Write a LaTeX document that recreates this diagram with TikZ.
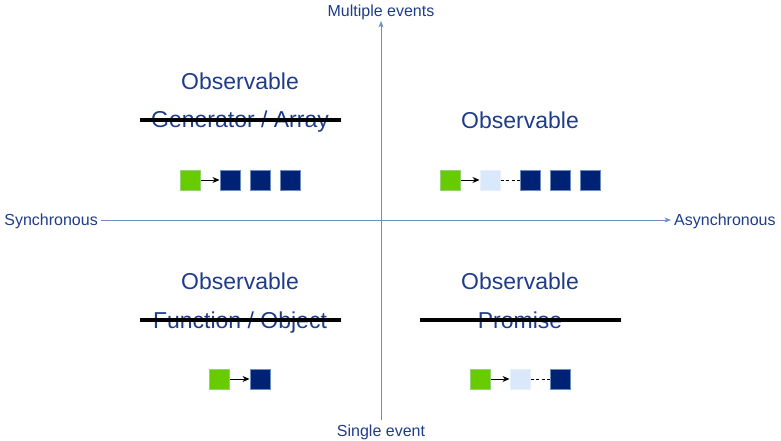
\documentclass[tikz,border=0pt]{standalone}
\usepackage{fontspec}
\setmainfont{Liberation Sans}
\usetikzlibrary{arrows.meta, positioning}
\definecolor{textblue}{HTML}{1F3C88}
\definecolor{axisblue}{HTML}{6C8EBF}
\definecolor{evgreen}{HTML}{66CC00}
\definecolor{evgreenline}{HTML}{97D077}
\definecolor{evdark}{HTML}{002275}
\definecolor{evlight}{HTML}{DAE8FC}
\definecolor{evlightline}{HTML}{E8F0FC}
\begin{document}
\begin{tikzpicture}[x=1pt, y=-1pt, >=Stealth]
		
		% Define styles
		\tikzstyle{axisline} = [draw=axisblue, line width=0.8pt]
		\tikzstyle{axislabel} = [text=textblue, font=\fontsize{16}{19}\selectfont, inner sep=3pt]
		\tikzstyle{sidelabel} = [axislabel, text height=14.7pt, text depth=3.3pt]
		\tikzstyle{quadtitle} = [text=textblue, font=\fontsize{23}{27}\selectfont, inner sep=0pt, anchor=base]
		\tikzstyle{strikeline} = [draw=black, line width=3.2pt]
		\tikzstyle{firstev} = [rectangle, draw=evgreenline, fill=evgreen, line width=1pt, minimum size=20pt, inner sep=0pt]
		\tikzstyle{pendingev} = [rectangle, draw=evlightline, fill=evlight, line width=1pt, minimum size=20pt, inner sep=0pt]
		\tikzstyle{valueev} = [rectangle, draw=axisblue, fill=evdark, line width=1pt, minimum size=20pt, inner sep=0pt]
		\tikzstyle{emitarrow} = [draw=black, line width=0.9pt, -{Stealth[length=7pt, width=6pt]}]
		\tikzstyle{waitline} = [draw=black, line width=0.8pt, dash pattern=on 3pt off 2.5pt]
		
		\useasboundingbox (0,0) rectangle (781,441);
		
		% Axes
		\node[sidelabel, anchor=east] (sync) at (101,220) {Synchronous};
		\node[sidelabel, anchor=west] (async) at (671,220) {Asynchronous};
		\node[axislabel, anchor=south, inner sep=1pt] (multi) at (381,21) {Multiple events};
		\node[axislabel, anchor=north, outer sep=2pt] (single) at (381,420) {Single event};
		\draw[axisline, ->] (sync) -- (async);
		\draw[axisline, ->] (single) -- (multi);
		
		% Labels
		\node[quadtitle] (obsTL) at (240,89.5) {Observable};
		\node[quadtitle] (genTL) at (240,128) {Generator / Array};
		\node[quadtitle] (obsTR) at (520,128.5) {Observable};
		\node[quadtitle] (obsBL) at (240,289.5) {Observable};
		\node[quadtitle] (funBL) at (240,328) {Function / Object};
		\node[quadtitle] (obsBR) at (520,289.5) {Observable};
		\node[quadtitle] (proBR) at (520,328) {Promise};
		
		% Strike lines
		\draw[strikeline] (140,120) -- (341,120);
		\draw[strikeline] (140,320) -- (341,320);
		\draw[strikeline] (420,320) -- (621,320);
		
		% Nodes
		\node[firstev] (tlA) at (190,180) {};
		\node[valueev, right of=tlA, node distance=40pt] (tlB) {};
		\node[valueev, right of=tlB, node distance=30pt] (tlC) {};
		\node[valueev, right of=tlC, node distance=30pt] (tlD) {};
		
		\node[firstev] (trA) at (450,180) {};
		\node[pendingev, right of=trA, node distance=40pt] (trB) {};
		\node[valueev, right of=trB, node distance=40pt] (trC) {};
		\node[valueev, right of=trC, node distance=30pt] (trD) {};
		\node[valueev, right of=trD, node distance=30pt] (trE) {};
		
		\node[firstev] (blA) at (219.5,379) {};
		\node[valueev, right of=blA, node distance=40.5pt] (blB) {};
		
		\node[firstev] (brA) at (480,379) {};
		\node[pendingev, right of=brA, node distance=40pt] (brB) {};
		\node[valueev, right of=brB, node distance=40pt] (brC) {};
		
		% Arrows
		\draw[emitarrow] (tlA) -- (tlB);
		\draw[emitarrow] (trA) -- (trB);
		\draw[waitline] (trB) -- (trC);
		\draw[emitarrow] (blA) -- (blB);
		\draw[emitarrow] (brA) -- (brB);
		\draw[waitline] (brB) -- (brC);
		
	\end{tikzpicture}
\end{document}
